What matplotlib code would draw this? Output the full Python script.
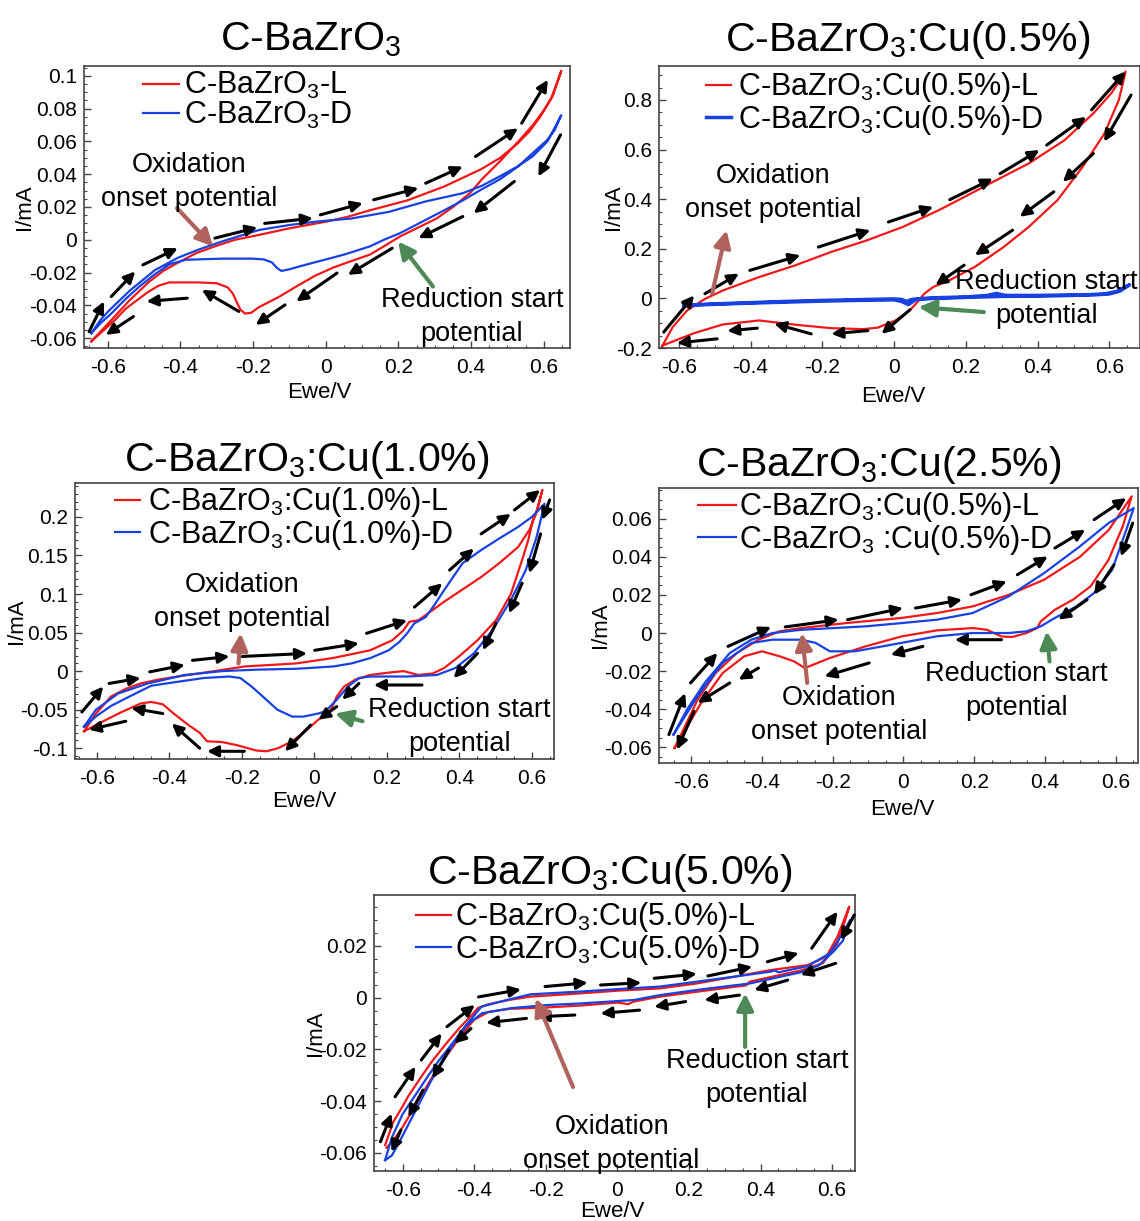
import matplotlib
matplotlib.use('Agg')
import matplotlib.pyplot as plt
from matplotlib.ticker import FixedLocator, MultipleLocator, FuncFormatter

plt.rcParams['font.family'] = 'Liberation Sans'
plt.rcParams['mathtext.fontset'] = 'custom'
plt.rcParams['mathtext.rm'] = 'Liberation Sans'
plt.rcParams['mathtext.it'] = 'Liberation Sans:italic'
plt.rcParams['mathtext.bf'] = 'Liberation Sans:bold'
plt.rcParams['axes.unicode_minus'] = False

RED = '#f01818'
BLUE = '#1842e0'
BROWN = '#b0625c'
GREEN = '#4e8a55'

# ---------------- data: (E / V, I / mA) ----------------
# panel 1 : C-BaZrO3
p1_L = [(-0.645, -0.062), (-0.59, -0.049), (-0.54, -0.037), (-0.488, -0.026), (-0.447, -0.019),
        (-0.407, -0.014), (-0.355, -0.008), (-0.305, -0.004), (-0.25, 0.0), (-0.183, 0.003),
        (-0.1, 0.007), (0.0, 0.011), (0.06, 0.014), (0.122, 0.018), (0.224, 0.024), (0.326, 0.0325),
        (0.427, 0.043), (0.48, 0.05), (0.529, 0.059), (0.56, 0.066), (0.59, 0.075), (0.62, 0.086),
        (0.648, 0.103),
        (0.625, 0.088), (0.6, 0.079), (0.57, 0.07), (0.53, 0.06), (0.48, 0.048), (0.43, 0.037),
        (0.397, 0.0285), (0.35, 0.02), (0.305, 0.013), (0.25, 0.007), (0.204, 0.002), (0.16, -0.004),
        (0.122, -0.009), (0.07, -0.013), (0.02, -0.017), (-0.03, -0.022), (-0.081, -0.0285),
        (-0.13, -0.035), (-0.183, -0.041), (-0.205, -0.0445), (-0.222, -0.045), (-0.235, -0.0425),
        (-0.245, -0.038), (-0.255, -0.033), (-0.27, -0.029), (-0.3, -0.0265), (-0.35, -0.026),
        (-0.43, -0.026), (-0.46, -0.028), (-0.49, -0.032), (-0.52, -0.037), (-0.55, -0.042),
        (-0.58, -0.049), (-0.61, -0.055), (-0.645, -0.062)]
p1_D = [(-0.645, -0.057), (-0.62, -0.049), (-0.6, -0.044), (-0.539, -0.031), (-0.47, -0.0185),
        (-0.407, -0.011), (-0.35, -0.006), (-0.285, -0.001), (-0.183, 0.006), (-0.1, 0.009),
        (-0.03, 0.011), (0.071, 0.013), (0.173, 0.017), (0.275, 0.0234), (0.377, 0.0284),
        (0.43, 0.033), (0.478, 0.0386), (0.53, 0.045), (0.57, 0.051), (0.61, 0.06), (0.648, 0.076),
        (0.63, 0.067), (0.61, 0.061), (0.57, 0.053), (0.529, 0.0447), (0.48, 0.037), (0.427, 0.0305),
        (0.377, 0.024), (0.326, 0.018), (0.265, 0.011), (0.204, 0.004), (0.16, 0.0), (0.122, -0.004),
        (0.051, -0.009), (0.0, -0.012), (-0.06, -0.0155), (-0.1, -0.018), (-0.122, -0.019),
        (-0.135, -0.017), (-0.148, -0.0138), (-0.17, -0.012), (-0.2, -0.0115), (-0.285, -0.0115),
        (-0.386, -0.0122), (-0.43, -0.015), (-0.47, -0.021), (-0.51, -0.028), (-0.55, -0.036),
        (-0.59, -0.045), (-0.62, -0.051), (-0.645, -0.057)]
p1_arrows = [(-0.651, -0.056, -0.610, -0.0376), (-0.590, -0.0346, -0.524, -0.0193),
             (-0.503, -0.0153, -0.407, -0.0051), (-0.305, 0.001, -0.188, 0.0075),
             (-0.168, 0.010, -0.035, 0.0132), (-0.015, 0.0152, 0.102, 0.0223),
             (0.132, 0.0244, 0.255, 0.0315), (0.275, 0.0345, 0.377, 0.0447),
             (0.412, 0.0508, 0.529, 0.068), (0.539, 0.0711, 0.611, 0.0976),
             (0.646, 0.064, 0.585, 0.0386), (0.519, 0.0356, 0.407, 0.0162),
             (0.377, 0.0142, 0.255, 0.001), (0.183, -0.0051, 0.061, -0.0214),
             (0.031, -0.0203, -0.081, -0.0376), (-0.112, -0.0397, -0.193, -0.0519),
             (-0.239, -0.0437, -0.341, -0.0305), (-0.381, -0.0356, -0.493, -0.0376),
             (-0.529, -0.0468, -0.605, -0.058)]

# panel 2 : C-BaZrO3:Cu(0.5%)
p2_L = [(-0.645, -0.19), (-0.617, -0.116), (-0.577, -0.049), (-0.527, -0.002), (-0.477, 0.032),
        (-0.376, 0.086), (-0.276, 0.133), (-0.176, 0.187), (-0.076, 0.234), (0.024, 0.288),
        (0.125, 0.356), (0.205, 0.416), (0.285, 0.477), (0.375, 0.544), (0.475, 0.638),
        (0.555, 0.746), (0.605, 0.827), (0.645, 0.914),
        (0.626, 0.8), (0.586, 0.665), (0.525, 0.53), (0.455, 0.396), (0.375, 0.288), (0.305, 0.207),
        (0.225, 0.127), (0.154, 0.073), (0.109, 0.046), (0.084, 0.019), (0.069, -0.008),
        (0.044, -0.048), (0.004, -0.089), (-0.046, -0.118), (-0.086, -0.124), (-0.176, -0.12),
        (-0.276, -0.106), (-0.376, -0.089), (-0.477, -0.105), (-0.557, -0.14), (-0.645, -0.19)]
p2_D = [(-0.586, -0.028), (-0.5, -0.022), (-0.4, -0.017), (-0.3, -0.012), (-0.2, -0.008),
        (-0.1, -0.005), (0.0, -0.002), (0.02, -0.004), (0.035, -0.012), (0.05, -0.004), (0.1, 0.002),
        (0.2, 0.006), (0.26, 0.012), (0.285, 0.02), (0.31, 0.012), (0.4, 0.012), (0.5, 0.014),
        (0.58, 0.016), (0.62, 0.028), (0.656, 0.055),
        (0.63, 0.03), (0.6, 0.018), (0.5, 0.012), (0.4, 0.009), (0.3, 0.008), (0.2, 0.004),
        (0.1, -0.001), (0.06, -0.005), (0.04, -0.025), (0.02, -0.012), (0.0, -0.006), (-0.1, -0.008),
        (-0.2, -0.011), (-0.3, -0.015), (-0.4, -0.019), (-0.5, -0.024), (-0.586, -0.028)]
p2_arrows = [(-0.642, -0.136, -0.557, 0.012), (-0.527, 0.019, -0.432, 0.1),
             (-0.402, 0.113, -0.261, 0.174), (-0.211, 0.207, -0.066, 0.275),
             (-0.016, 0.308, 0.109, 0.369), (0.155, 0.398, 0.275, 0.483),
             (0.295, 0.503, 0.405, 0.598), (0.425, 0.618, 0.535, 0.732),
             (0.55, 0.76, 0.645, 0.915),
             (0.66, 0.82, 0.585, 0.632), (0.555, 0.584, 0.47, 0.47), (0.445, 0.43, 0.35, 0.329),
             (0.33, 0.275, 0.225, 0.174), (0.195, 0.134, 0.115, 0.053),
             (0.044, -0.046, -0.035, -0.143), (-0.073, -0.13, -0.175, -0.143),
             (-0.231, -0.143, -0.334, -0.102), (-0.381, -0.12, -0.465, -0.131),
             (-0.493, -0.163, -0.605, -0.18)]

# panel 3 : C-BaZrO3:Cu(1.0%)
p3_L = [(-0.635, -0.078), (-0.602, -0.055), (-0.561, -0.033), (-0.52, -0.023), (-0.479, -0.016),
        (-0.43, -0.011), (-0.377, -0.007), (-0.275, 0.0), (-0.193, 0.006), (-0.12, 0.008),
        (-0.05, 0.01), (0.052, 0.017), (0.154, 0.027), (0.215, 0.04), (0.246, 0.053), (0.262, 0.064),
        (0.287, 0.066), (0.32, 0.077), (0.358, 0.09), (0.46, 0.122), (0.51, 0.14), (0.562, 0.161),
        (0.593, 0.183), (0.612, 0.205), (0.629, 0.235),
        (0.615, 0.21), (0.603, 0.196), (0.59, 0.17), (0.573, 0.144), (0.542, 0.1), (0.501, 0.066),
        (0.45, 0.04), (0.399, 0.019), (0.358, 0.004), (0.327, -0.003), (0.287, -0.005), (0.246, 0.0),
        (0.205, -0.002), (0.154, -0.005), (0.113, -0.011), (0.082, -0.02), (0.062, -0.033),
        (0.041, -0.055), (0.011, -0.063), (-0.02, -0.076), (-0.061, -0.091), (-0.1, -0.1),
        (-0.132, -0.104), (-0.16, -0.103), (-0.214, -0.096), (-0.255, -0.092), (-0.296, -0.091),
        (-0.316, -0.08), (-0.347, -0.07), (-0.388, -0.055), (-0.418, -0.043), (-0.45, -0.04),
        (-0.479, -0.042), (-0.531, -0.053), (-0.582, -0.065), (-0.635, -0.078)]
p3_D = [(-0.635, -0.072), (-0.602, -0.05), (-0.541, -0.029), (-0.459, -0.016), (-0.357, -0.005),
        (-0.255, 0.0), (-0.153, 0.002), (-0.05, 0.003), (0.052, 0.006), (0.103, 0.01), (0.155, 0.017),
        (0.205, 0.027), (0.235, 0.038), (0.256, 0.049), (0.276, 0.062), (0.307, 0.07), (0.33, 0.085),
        (0.358, 0.105), (0.409, 0.14), (0.46, 0.157), (0.51, 0.172), (0.562, 0.187), (0.6, 0.2),
        (0.635, 0.217),
        (0.613, 0.174), (0.583, 0.131), (0.542, 0.092), (0.491, 0.053), (0.44, 0.023), (0.389, 0.004),
        (0.338, -0.005), (0.256, -0.007), (0.154, -0.007), (0.123, -0.009), (0.093, -0.02),
        (0.062, -0.037), (0.031, -0.052), (0.011, -0.055), (-0.03, -0.059), (-0.061, -0.059),
        (-0.102, -0.05), (-0.142, -0.033), (-0.173, -0.02), (-0.204, -0.009), (-0.234, -0.007),
        (-0.306, -0.009), (-0.408, -0.016), (-0.45, -0.019), (-0.51, -0.033), (-0.56, -0.045),
        (-0.6, -0.058), (-0.635, -0.072)]
p3_arrows = [(-0.641, -0.053, -0.582, -0.02), (-0.566, -0.016, -0.479, -0.009),
             (-0.454, -0.001, -0.357, 0.008), (-0.336, 0.014, -0.234, 0.019),
             (-0.199, 0.019, -0.02, 0.023), (0.001, 0.027, 0.123, 0.036),
             (0.144, 0.049, 0.256, 0.066), (0.276, 0.083, 0.353, 0.114),
             (0.373, 0.131, 0.44, 0.159), (0.46, 0.178, 0.542, 0.204),
             (0.552, 0.209, 0.623, 0.235),
             (0.649, 0.222, 0.629, 0.196), (0.624, 0.178, 0.593, 0.127),
             (0.573, 0.114, 0.537, 0.075), (0.501, 0.062, 0.465, 0.027),
             (0.45, 0.023, 0.384, -0.009), (0.297, -0.018, 0.164, -0.018),
             (0.123, -0.016, 0.077, -0.037), (0.062, -0.046, 0.011, -0.063),
             (-0.01, -0.07, -0.081, -0.104), (-0.193, -0.104, -0.296, -0.104),
             (-0.316, -0.1, -0.393, -0.068), (-0.418, -0.055, -0.505, -0.048),
             (-0.52, -0.065, -0.622, -0.076)]

# panel 4 : C-BaZrO3:Cu(2.5%)
p4_L = [(-0.647, -0.0603), (-0.622, -0.0507), (-0.582, -0.035), (-0.531, -0.021), (-0.471, -0.0105),
        (-0.41, -0.0035), (-0.35, 0.0009), (-0.289, 0.0026), (-0.158, 0.0053), (-0.006, 0.0079),
        (0.095, 0.0105), (0.196, 0.014), (0.297, 0.02), (0.398, 0.028), (0.499, 0.04), (0.58, 0.054),
        (0.645, 0.0717),
        (0.62, 0.056), (0.58, 0.0385), (0.529, 0.0245), (0.479, 0.0175), (0.428, 0.0122),
        (0.388, 0.0061), (0.378, 0.0026), (0.348, 0.0), (0.307, -0.0021), (0.277, -0.0018),
        (0.236, 0.0017), (0.196, 0.0026), (0.095, 0.0014), (-0.006, -0.0018), (-0.107, -0.007),
        (-0.208, -0.0131), (-0.279, -0.0184), (-0.309, -0.0149), (-0.35, -0.0122), (-0.4, -0.0096),
        (-0.45, -0.0122), (-0.511, -0.021), (-0.572, -0.0367), (-0.622, -0.0525), (-0.647, -0.0603)]
p4_D = [(-0.65, -0.0533), (-0.612, -0.0402), (-0.562, -0.0262), (-0.491, -0.0105), (-0.43, -0.0035),
        (-0.37, 0.0), (-0.289, 0.0017), (-0.107, 0.0035), (-0.006, 0.0052), (0.095, 0.007),
        (0.196, 0.0105), (0.297, 0.0192), (0.398, 0.0315), (0.499, 0.0455), (0.58, 0.0577),
        (0.651, 0.0656),
        (0.63, 0.0542), (0.59, 0.0332), (0.539, 0.021), (0.489, 0.014), (0.428, 0.0079),
        (0.388, 0.0035), (0.348, 0.0009), (0.297, 0.0), (0.196, 0.0), (0.095, -0.0017),
        (-0.006, -0.0052), (-0.137, -0.0096), (-0.208, -0.0096), (-0.248, -0.0052),
        (-0.289, -0.0035), (-0.37, -0.0035), (-0.43, -0.0052), (-0.511, -0.0157), (-0.582, -0.0332),
        (-0.65, -0.0533)]
p4_arrows = [(-0.663, -0.0533, -0.617, -0.0315), (-0.602, -0.0262, -0.526, -0.0105),
             (-0.496, -0.007, -0.374, 0.0032), (-0.334, 0.0032, -0.183, 0.007),
             (-0.158, 0.007, -0.001, 0.0131), (0.034, 0.0131, 0.166, 0.0175),
             (0.191, 0.0201, 0.292, 0.0271), (0.322, 0.0306, 0.408, 0.0402),
             (0.428, 0.0446, 0.514, 0.0542), (0.539, 0.0595, 0.63, 0.0708),
             (0.648, 0.0577, 0.615, 0.0402), (0.595, 0.0358, 0.539, 0.0201),
             (0.519, 0.0175, 0.438, 0.007), (0.277, -0.0035, 0.145, -0.0035),
             (0.055, -0.007, -0.036, -0.0114), (-0.097, -0.0157, -0.223, -0.0227),
             (-0.41, -0.0184, -0.466, -0.0245), (-0.491, -0.0262, -0.582, -0.0367),
             (-0.592, -0.0411, -0.64, -0.0612)]

# panel 5 : C-BaZrO3:Cu(5.0%)
p5_L = [(-0.649, -0.057), (-0.626, -0.048), (-0.6, -0.042), (-0.584, -0.038), (-0.55, -0.031),
        (-0.52, -0.025), (-0.48, -0.018), (-0.44, -0.0115), (-0.405, -0.0065), (-0.39, -0.004),
        (-0.36, -0.0025), (-0.3, -0.0008), (-0.243, 0.0004), (-0.1, 0.0017), (0.0, 0.0027),
        (0.119, 0.0036), (0.222, 0.0055), (0.326, 0.0081), (0.429, 0.0107), (0.532, 0.0126),
        (0.584, 0.0159), (0.615, 0.0236), (0.648, 0.0352),
        (0.63, 0.027), (0.615, 0.021), (0.574, 0.0133), (0.512, 0.0105), (0.429, 0.008),
        (0.37, 0.0062), (0.36, 0.0048), (0.222, 0.0023), (0.119, 0.0004), (0.046, -0.0015),
        (0.03, -0.0025), (0.0, -0.0019), (-0.1, -0.003), (-0.2, -0.0038), (-0.3, -0.0043),
        (-0.36, -0.0055), (-0.4, -0.0085), (-0.43, -0.0135), (-0.47, -0.021), (-0.51, -0.029),
        (-0.54, -0.036), (-0.57, -0.043), (-0.6, -0.05), (-0.625, -0.055), (-0.645, -0.058)]
p5_D = [(-0.649, -0.0628), (-0.63, -0.054), (-0.6, -0.045), (-0.566, -0.038), (-0.53, -0.0305),
        (-0.5, -0.0245), (-0.46, -0.0175), (-0.425, -0.011), (-0.395, -0.006), (-0.38, -0.0035),
        (-0.326, -0.0015), (-0.243, 0.0013), (-0.1, 0.0024), (0.0, 0.0033), (0.119, 0.0043),
        (0.222, 0.0062), (0.326, 0.0081), (0.429, 0.0101), (0.44, 0.0105), (0.45, 0.0098),
        (0.532, 0.0122), (0.594, 0.0172), (0.63, 0.025), (0.65, 0.03),
        (0.63, 0.022), (0.605, 0.018), (0.563, 0.0125), (0.512, 0.0098), (0.429, 0.0073),
        (0.37, 0.0055), (0.222, 0.003), (0.119, 0.001), (0.046, -0.0009), (-0.1, -0.0022),
        (-0.192, -0.0028), (-0.295, -0.004), (-0.378, -0.006), (-0.42, -0.0105), (-0.45, -0.016),
        (-0.48, -0.023), (-0.52, -0.032), (-0.55, -0.04), (-0.58, -0.048), (-0.61, -0.056),
        (-0.63, -0.061), (-0.649, -0.0628)]
p5_arrows = [(-0.662, -0.0557, -0.631, -0.0448), (-0.621, -0.0383, -0.564, -0.0267),
             (-0.548, -0.0241, -0.491, -0.0138), (-0.476, -0.0112, -0.398, -0.0028),
             (-0.388, 0.0003, -0.269, 0.0032), (-0.202, 0.0043, -0.083, 0.0058),
             (-0.047, 0.0049, 0.067, 0.0058), (0.103, 0.0075, 0.222, 0.0092),
             (0.253, 0.0084, 0.377, 0.012), (0.419, 0.0139, 0.507, 0.0172),
             (0.543, 0.0191, 0.615, 0.0333),
             (0.662, 0.032, 0.625, 0.0223), (0.61, 0.0133, 0.512, 0.0088),
             (0.476, 0.0068, 0.382, 0.003), (0.341, 0.001, 0.243, -0.0009),
             (0.191, -0.0015, 0.103, -0.0035), (0.062, -0.0048, -0.047, -0.0061),
             (-0.119, -0.0067, -0.223, -0.0074), (-0.254, -0.008, -0.367, -0.0097),
             (-0.409, -0.0119, -0.455, -0.0177), (-0.471, -0.0203, -0.517, -0.0312),
             (-0.543, -0.0357, -0.584, -0.0461), (-0.605, -0.0512, -0.631, -0.0596)]

x_ticks = [-0.6, -0.4, -0.2, 0, 0.2, 0.4, 0.6]

panels = [
    dict(title='C-BaZrO$_3$', tpos=(311, 50),
         rect=(84, 66, 570, 348), xlim=(-0.665, 0.672), ylim=(-0.066, 0.106),
         yticks=[-0.06, -0.04, -0.02, 0, 0.02, 0.04, 0.06, 0.08, 0.1], yminor=0.005,
         L=p1_L, D=p1_D, arrows=p1_arrows,
         labels=('C-BaZrO$_3$-L', 'C-BaZrO$_3$-D'),
         leg=(0.1206, 0.985, 1.2, 0.17),
         ox=(-0.376, 0.035), ox_arrow=(-0.409, 0.0193, -0.31, -0.0041),
         rd=(0.402, -0.047), rd_arrow=(0.295, -0.0285, 0.199, -0.001),
         ylab=(-0.1, 0.5), xlab=(0.484, -0.12), dlw=1.6),
    dict(title='C-BaZrO$_3$:Cu(0.5%)', tpos=(908, 51),
         rect=(659, 66, 1140, 348), xlim=(-0.655, 0.685), ylim=(-0.2, 0.937),
         yticks=[-0.2, 0, 0.2, 0.4, 0.6, 0.8], yminor=0.05,
         L=p2_L, D=p2_D, arrows=p2_arrows,
         labels=('C-BaZrO$_3$:Cu(0.5%)-L', 'C-BaZrO$_3$:Cu(0.5%)-D'),
         leg=(0.097, 0.985, 0.83, 0.24),
         ox=(-0.336, 0.423), ox_arrow=(-0.507, 0.019, -0.467, 0.275),
         rd=(0.425, -0.004), rd_arrow=(0.25, -0.055, 0.068, -0.035),
         ylab=(-0.073, 0.5), xlab=(0.487, -0.135), dlw=2.5),
    dict(title='C-BaZrO$_3$:Cu(1.0%)', tpos=(307, 471),
         rect=(75, 483, 554, 759), xlim=(-0.66, 0.661), ylim=(-0.114, 0.244),
         yticks=[-0.1, -0.05, 0, 0.05, 0.1, 0.15, 0.2], yminor=0.01,
         L=p3_L, D=p3_D, arrows=p3_arrows,
         labels=('C-BaZrO$_3$:Cu(1.0%)-L', 'C-BaZrO$_3$:Cu(1.0%)-D'),
         leg=(0.0835, 0.992, 0.83, 0.24),
         ox=(-0.199, 0.09), ox_arrow=(-0.209, 0.01, -0.203, 0.049),
         rd=(0.401, -0.0728), rd_arrow=(0.133, -0.065, 0.057, -0.055),
         ylab=(-0.1, 0.5), xlab=(0.478, -0.115), dlw=1.6),
    dict(title='C-BaZrO$_3$:Cu(2.5%)', tpos=(879, 476),
         rect=(659, 488, 1138, 763), xlim=(-0.691, 0.663), ylim=(-0.0682, 0.0761),
         yticks=[-0.06, -0.04, -0.02, 0, 0.02, 0.04, 0.06], yminor=0.005,
         L=p4_L, D=p4_D, arrows=p4_arrows,
         labels=('C-BaZrO$_3$:Cu(0.5%)-L', 'C-BaZrO$_3$ :Cu(0.5%)-D'),
         leg=(0.0814, 0.992, 1.23, 0.1),
         ox=(-0.183, -0.0429), ox_arrow=(-0.272, -0.0262, -0.287, 0.0),
         rd=(0.319, -0.0306), rd_arrow=(0.413, -0.0149, 0.405, 0.0009),
         ylab=(-0.1, 0.5), xlab=(0.509, -0.13), dlw=1.6),
    dict(title='C-BaZrO$_3$:Cu(5.0%)', tpos=(610, 884),
         rect=(374, 895, 855, 1171), xlim=(-0.68, 0.664), ylim=(-0.067, 0.0397),
         yticks=[-0.06, -0.04, -0.02, 0, 0.02], yminor=0.005,
         L=p5_L, D=p5_D, arrows=p5_arrows,
         labels=('C-BaZrO$_3$:Cu(5.0%)-L', 'C-BaZrO$_3$:Cu(5.0%)-D'),
         leg=(0.0873, 0.981, 1.14, 0.14),
         ox=(-0.016, -0.0566), ox_arrow=(-0.124, -0.0345, -0.228, -0.0003),
         rd=(0.39, -0.0312), rd_arrow=(0.357, -0.019, 0.357, 0.0017),
         ylab=(-0.1, 0.5), xlab=(0.495, -0.108), dlw=1.6),
]

W, H = 1140, 1221
fig = plt.figure(figsize=(W / 100, H / 100), dpi=100)
fmt = FuncFormatter(lambda v, p: '%g' % round(v, 4))

for p in panels:
    l, t, r, b = p['rect']
    ax = fig.add_axes([l / W, 1 - b / H, (r - l) / W, (b - t) / H])
    fig.text(p['tpos'][0] / W, 1 - p['tpos'][1] / H, p['title'], ha='center',
             va='baseline', fontsize=29.5)

    lv, li = zip(*p['L'])
    dv, di = zip(*p['D'])
    ax.plot(lv, li, color=RED, lw=1.6, label=p['labels'][0], zorder=3)
    ax.plot(dv, di, color=BLUE, lw=p['dlw'], label=p['labels'][1], zorder=3)

    for x0, y0, x1, y1 in p['arrows']:
        ax.annotate('', xy=(x1, y1), xytext=(x0, y0), annotation_clip=False,
                    arrowprops=dict(arrowstyle='-|>,head_length=0.55,head_width=0.27',
                                    color='black', lw=2.2, mutation_scale=12,
                                    shrinkA=0, shrinkB=0), zorder=4)

    x0, y0, x1, y1 = p['ox_arrow']
    ax.annotate('', xy=(x1, y1), xytext=(x0, y0),
                arrowprops=dict(arrowstyle='-|>,head_length=0.5,head_width=0.25',
                                color=BROWN, lw=3, mutation_scale=20,
                                shrinkA=0, shrinkB=0), zorder=5)
    x0, y0, x1, y1 = p['rd_arrow']
    ax.annotate('', xy=(x1, y1), xytext=(x0, y0),
                arrowprops=dict(arrowstyle='-|>,head_length=0.5,head_width=0.25',
                                color=GREEN, lw=3, mutation_scale=20,
                                shrinkA=0, shrinkB=0), zorder=5)

    ax.text(p['ox'][0], p['ox'][1], 'Oxidation\nonset potential', ha='center',
            va='center', fontsize=19.5, linespacing=1.4, zorder=6)
    ax.text(p['rd'][0], p['rd'][1], 'Reduction start\npotential', ha='center',
            va='center', fontsize=19.5, linespacing=1.4, zorder=6)

    lx, ly, hl, hp = p['leg']
    ax.legend(loc='upper left', bbox_to_anchor=(lx, ly), borderaxespad=0, borderpad=0,
              frameon=False, fontsize=22, handlelength=hl, handletextpad=hp,
              labelspacing=-0.05)

    ax.set_xlim(*p['xlim'])
    ax.set_ylim(*p['ylim'])
    ax.xaxis.set_major_locator(FixedLocator(x_ticks))
    ax.yaxis.set_major_locator(FixedLocator(p['yticks']))
    ax.xaxis.set_minor_locator(MultipleLocator(0.05))
    ax.yaxis.set_minor_locator(MultipleLocator(p['yminor']))
    ax.xaxis.set_major_formatter(fmt)
    ax.yaxis.set_major_formatter(fmt)
    ax.tick_params(which='both', direction='in', top=False, right=False,
                   colors='#444444', labelcolor='black')
    ax.tick_params(which='major', length=5, width=1, labelsize=15)
    ax.tick_params(which='minor', length=2.5, width=0.8)
    ax.tick_params(axis='x', pad=7)
    ax.tick_params(axis='y', pad=5)
    for s in ax.spines.values():
        s.set_color('#444444')
        s.set_linewidth(1.2)

    ax.set_xlabel('Ewe/V', fontsize=16)
    ax.set_ylabel('I/mA', fontsize=16)
    ax.xaxis.set_label_coords(*p['xlab'])
    ax.yaxis.set_label_coords(*p['ylab'])

fig.savefig('out.png', dpi=100)
